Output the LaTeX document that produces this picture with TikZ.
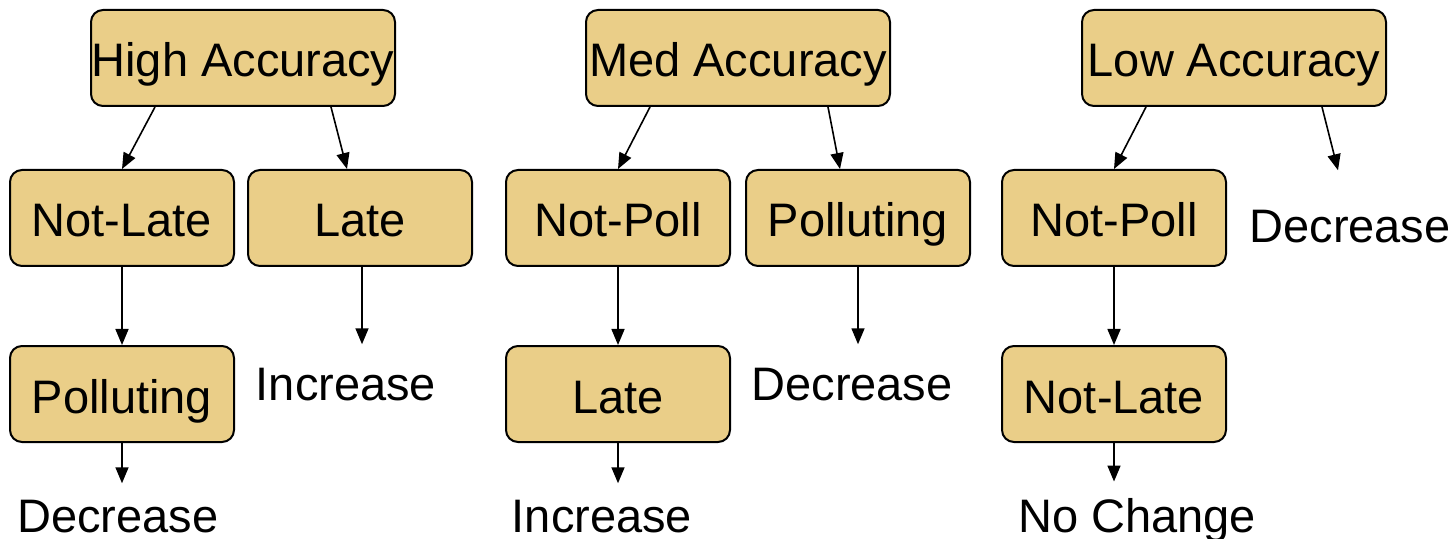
\documentclass[tikz,border=0pt]{standalone}
\usepackage{fontspec}
\setmainfont{Liberation Sans}
\usepackage{tikz}
\usetikzlibrary{positioning}
\usetikzlibrary{arrows.meta}

\definecolor{tan}{RGB}{234,206,136}

\begin{document}
\begin{tikzpicture}
    [x=0.5pt, y=-0.5pt, every node/.style={font=\fontsize{23.5}{28}\selectfont},
    box/.style={draw=black, line width=1pt, fill=tan, rounded corners=6pt,
      inner sep=0pt, minimum width=112pt, minimum height=48pt,
      text height=19pt, text depth=0pt},
    topbox/.style={box, minimum width=152pt},
    leaf/.style={inner sep=0pt, anchor=base},
    arr/.style={line width=0.8pt, -{Triangle[length=8pt, width=6.5pt]}}]

    \useasboundingbox (0,0) rectangle (1454,539);

    % High accuracy tree
    \node[topbox] (high) at (243,58) {High Accuracy};
    \node[box] (hiNotLate) at (122,218) {Not-Late};
    \node[box] (hiLate) at (360,218) {Late};
    \node[box] (hiPoll) at (122,394) {Polluting};
    \node[leaf] (hiInc) at (346,400) {Increase};
    \node[leaf] (hiDec) at (118,532) {Decrease};

    \draw[arr] ([xshift=-44pt]high.south) -- (hiNotLate.north);
    \draw[arr] ([xshift=44pt]high.south) -- ([xshift=-6.5pt]hiLate.north);
    \draw[arr] (hiNotLate) -- (hiPoll);
    \draw[arr] ([xshift=1pt]hiLate.south) -- ([xshift=8pt, yshift=11.5pt]hiInc.north);
    \draw[arr] (hiPoll.south) -- ([xshift=2pt, yshift=8pt]hiDec.north);

    % Med accuracy tree
    \node[topbox] (med) at (738,58) {Med Accuracy};
    \node[box] (medNotPoll) at (618,218) {Not-Poll};
    \node[box] (medPoll) at (858,218) {Polluting};
    \node[box] (medLate) at (618,394) {Late};
    \node[leaf] (medDec) at (852,400) {Decrease};
    \node[leaf] (medInc) at (602,532) {Increase};

    \draw[arr] ([xshift=-44pt]med.south) -- (medNotPoll.north);
    \draw[arr] ([xshift=45pt]med.south) -- ([xshift=-9pt]medPoll.north);
    \draw[arr] (medNotPoll) -- (medLate);
    \draw[arr] (medPoll.south) -- ([xshift=3pt, yshift=11.5pt]medDec.north);
    \draw[arr] (medLate.south) -- ([xshift=8pt, yshift=8pt]medInc.north);

    % Low accuracy tree
    \node[topbox] (low) at (1234,58) {Low Accuracy};
    \node[box] (lowNotPoll) at (1114,218) {Not-Poll};
    \node[box] (lowNotLate) at (1114,394) {Not-Late};
    \node[leaf] (lowDec) at (1350,243) {Decrease};
    \node[leaf] (lowNoCh) at (1137,532) {No Change};

    \draw[arr] ([xshift=-44pt]low.south) -- (lowNotPoll.north);
    \draw[arr] ([xshift=44pt]low.south) -- ([xshift=-6pt, yshift=20pt]lowDec.north);
    \draw[arr] (lowNotPoll) -- (lowNotLate);
    \draw[arr] (lowNotLate.south) -- ([xshift=-11.5pt, yshift=8pt]lowNoCh.north);

  \end{tikzpicture}
\end{document}
